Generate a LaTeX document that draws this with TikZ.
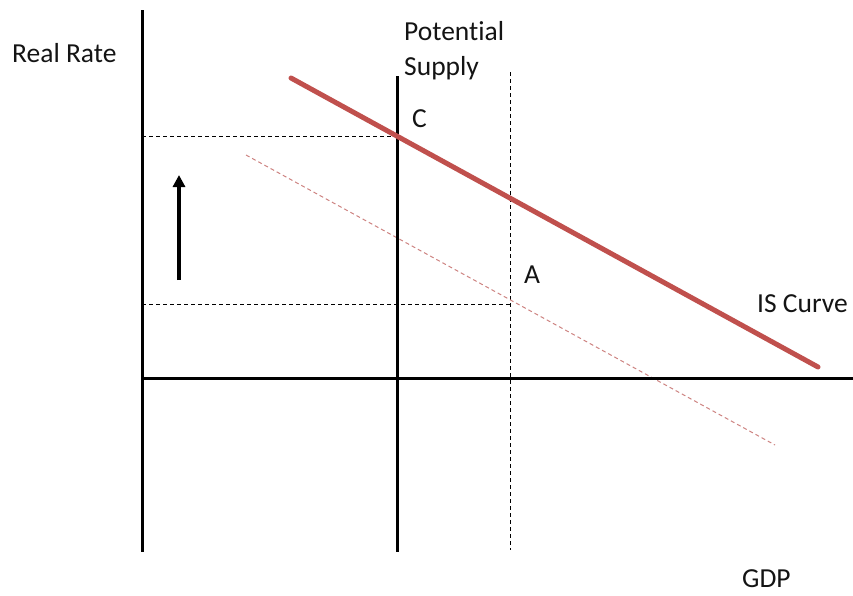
\documentclass[tikz,border=0pt]{standalone}
\usepackage{fontspec}
\setmainfont[Ligatures=NoCommon]{Carlito}
\usetikzlibrary{arrows.meta}
\definecolor{isred}{RGB}{192,80,77}
\definecolor{oldred}{RGB}{205,130,128}
\definecolor{txt}{RGB}{20,20,20}
\begin{document}
\begin{tikzpicture}[x=1pt,y=-1pt,
  axisline/.style={line width=3pt,black},
  guide/.style={line width=1pt,black,dash pattern=on 4pt off 3pt},
  iscurve/.style={line width=5pt,isred,line cap=round},
  oldcurve/.style={line width=1pt,oldred,dash pattern=on 4pt off 3pt},
  lbl/.style={inner sep=0pt,anchor=base west,text=txt,font=\fontsize{27.5}{33}\selectfont},
  shiftarrow/.style={line width=4pt,-{Triangle[length=12pt,width=12pt]}}]
\useasboundingbox (0,0) rectangle (853,595);
% coordinates
\coordinate (ytop) at (142,10);
\coordinate (ybot) at (142,552);
\coordinate (xleft) at (142,378);
\coordinate (xright) at (853,378);
\coordinate (ptop) at (397,76);
\coordinate (pbot) at (397,552);
\coordinate (atop) at (510,72);
\coordinate (abot) at (510,550);
\coordinate (c) at (397,136);
\coordinate (cl) at (142,136);
\coordinate (a) at (510,304);
\coordinate (al) at (142,304);
\coordinate (is1) at (291,78);
\coordinate (is2) at (818,367);
\coordinate (old1) at (246,155);
\coordinate (old2) at (775,445);
\coordinate (arr1) at (179,280);
\coordinate (arr2) at (179,175);
% guides
\draw[guide] (atop) -- (abot);
\draw[guide] (cl) -- (c);
\draw[guide] (al) -- (a);
% old IS
\draw[oldcurve] (old1) -- (old2);
% axes
\draw[axisline] (ytop) -- (ybot);
\draw[axisline] (xleft) -- (xright);
\draw[axisline] (ptop) -- (pbot);
% IS
\draw[iscurve] (is1) -- (is2);
% arrow
\draw[shiftarrow] (arr1) -- (arr2);
% labels
\node[lbl] (realrate) at (12,62) {Real Rate};
\node[lbl] (pot) at (404,40) {Potential};
\node[lbl] (sup) at (404,75) {Supply};
\node[lbl] (lc) at (412,127) {C};
\node[lbl] (la) at (524,283) {A};
\node[lbl] (lis) at (757,312) {IS Curve};
\node[lbl] (gdp) at (742,587) {GDP};
\end{tikzpicture}
\end{document}
